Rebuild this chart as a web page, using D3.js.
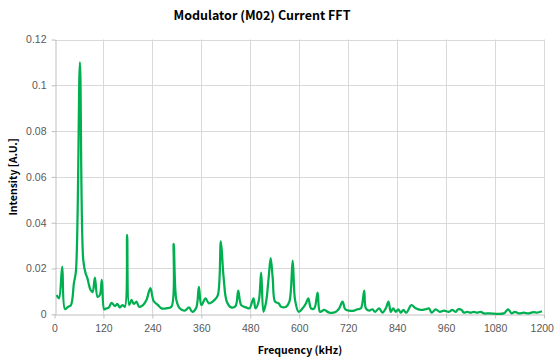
<!DOCTYPE html>
<html>
<head>
<meta charset="utf-8">
<script src="https://cdn.jsdelivr.net/npm/d3@7"></script>
<style>
  body { margin: 0; background: #fff; }
  svg { display: block; font-family: "Noto Sans CJK KR", "Noto Sans", sans-serif; }
  .grid line { stroke: #d9d9d9; }
  .axis path, .axis line { stroke: #bfbfbf; }
  .axis text { fill: #595959; font-size: 10.5px; }
</style>
</head>
<body>
<svg class="main" width="555" height="361"></svg>
<script>
// FFT spectrum
const freq = [5.4, 11, 19, 25.7, 33.7, 40.3, 47.7, 52.6, 62.3, 70.4, 76, 80.2, 88.5, 93.4, 99, 105.6, 111.2, 116,
  121.8, 126, 133, 139.9, 148, 154.5, 160, 166.7, 172.4, 178, 182.9, 188.8, 194.4, 201, 207.3, 217, 225.4, 235,
  243, 253.8, 262, 274.3, 286.6, 292.2, 298.8, 306.9, 319.1, 329.6, 337.9, 347.7, 354, 360, 370.4, 378.5,
  392.4, 400.5, 407.8, 414.4, 422.5, 433.3, 443.8, 450.4, 457.7, 470, 478, 487.8, 492.7, 500.7, 506.6, 512.2,
  518.8, 525.2, 530, 535, 540.8, 549.6, 555.5, 567.7, 575.8, 583.9, 589.7, 598.5, 608.3, 616.6, 622.2, 628.9,
  636.9, 645, 650.9, 661.4, 673.6, 690, 698, 706.1, 712.7, 722.5, 734.7, 742.8, 751.1, 759.2, 763.3, 771.4,
  779.5, 786, 795.8, 803.9, 812.2, 818.6, 824.4, 830, 836.7, 843, 848.9, 855.3, 862.6, 874.8, 885.6, 897.8,
  910, 918, 924.7, 934.5, 944.3, 954.8, 967, 975, 983.4, 989.7, 998, 1003.7, 1011.7, 1020, 1028, 1036, 1044.5,
  1052.6, 1064.8, 1101.5, 1112, 1120.3, 1128.4, 1138.2, 1150.4, 1162.6, 1174.8, 1182.9, 1195];
const intensity = [0.0084, 0.007, 0.0208, 0.0023, 0.0033, 0.004, 0.0137, 0.019, 0.110, 0.024, 0.018, 0.016, 0.0106, 0.0097, 0.016, 0.0076, 0.0084, 0.015,
  0.0022, 0.0025, 0.0029, 0.005, 0.0036, 0.0045, 0.003, 0.004, 0.0033, 0.0347, 0.004, 0.0063, 0.0045, 0.0055, 0.0033, 0.004, 0.0062, 0.0114,
  0.0058, 0.004, 0.0026, 0.0026, 0.0033, 0.0307, 0.0062, 0.0026, 0.0016, 0.003, 0.0011, 0.003, 0.012, 0.004, 0.007, 0.0048,
  0.0063, 0.0084, 0.0318, 0.0165, 0.0055, 0.003, 0.0036, 0.0103, 0.004, 0.003, 0.0026, 0.007, 0.0026, 0.0058, 0.0182, 0.0011,
  0.0055, 0.0165, 0.0245, 0.0157, 0.0055, 0.0048, 0.0033, 0.0033, 0.0055, 0.0234, 0.0063, 0.0011, 0.0026, 0.0048, 0.007, 0.0026,
  0.0026, 0.0095, 0.0011, 0.0019, 0.0007, 0.0011, 0.0026, 0.0055, 0.0022, 0.0016, 0.0016, 0.0022, 0.0026, 0.0103, 0.0026, 0.0016,
  0.0022, 0.0011, 0.0026, 0.0007, 0.0026, 0.0055, 0.0011, 0.0026, 0.0011, 0.0022, 0.0007, 0.0019, 0.0007, 0.004, 0.0026, 0.0019,
  0.0022, 0.0026, 0.0007, 0.0022, 0.0011, 0.0016, 0.0011, 0.0019, 0.0011, 0.0022, 0.0019, 0.0007, 0.0011, 0.0007, 0.0011, 0.0007, 0.0011,
  0.0004, 0.0004, 0.0004, 0.0022, 0.0004, 0.0011, 0.0004, 0.0007, 0.0004, 0.001, 0.0007, 0.0013];

const xTicks = [0, 120, 240, 360, 480, 600, 720, 840, 960, 1080, 1200];
const yTicks = [0, 0.02, 0.04, 0.06, 0.08, 0.1, 0.12];

const data = freq.map((f, i) => ({ f, v: intensity[i] }));

const svg = d3.select(".main");
const plot = { left: 54.5, right: 544, top: 39.5, bottom: 314.3 };

const x = d3.scaleLinear().domain([0, 1200]).range([plot.left, plot.right]);
const y = d3.scaleLinear().domain([0, 0.12]).range([plot.bottom, plot.top]);

// gridlines
const grid = svg.append("g").attr("class", "grid");
grid.selectAll(".h").data(yTicks.slice(1)).join("line")
  .attr("x1", plot.left).attr("x2", plot.right)
  .attr("y1", d => Math.round(y(d)) + 0.5).attr("y2", d => Math.round(y(d)) + 0.5);
grid.selectAll(".v").data(xTicks.slice(1)).join("line")
  .attr("y1", plot.top).attr("y2", plot.bottom)
  .attr("x1", d => Math.round(x(d)) + 0.5).attr("x2", d => Math.round(x(d)) + 0.5);

// axes
svg.append("g")
  .attr("class", "axis")
  .attr("transform", `translate(0,${Math.round(plot.bottom) + 0.5})`)
  .call(d3.axisBottom(x).tickValues(xTicks).tickFormat(d3.format("d")).tickSize(4).tickPadding(6).tickSizeOuter(0))
  .call(g => g.selectAll(".tick:last-of-type text").attr("text-anchor", "end").attr("dx", "0.9em"));

svg.append("g")
  .attr("class", "axis")
  .attr("transform", `translate(${Math.round(plot.left) + 0.5},0)`)
  .call(d3.axisLeft(y).tickValues(yTicks).tickFormat(d => +d.toFixed(2)).tickSize(4).tickPadding(5).tickSizeOuter(0));

// spectrum line
const line = d3.line()
  .x(d => x(d.f))
  .y(d => y(d.v))
  .curve(d3.curveCatmullRom.alpha(0.5));

svg.append("path")
  .datum(data)
  .attr("fill", "none")
  .attr("stroke", "#00b050")
  .attr("stroke-width", 2.25)
  .attr("stroke-linejoin", "round")
  .attr("d", line);

// titles
svg.append("text")
  .attr("x", 262).attr("y", 20)
  .attr("text-anchor", "middle")
  .attr("font-size", 12.5).attr("font-weight", "bold").attr("fill", "#000")
  .text("Modulator (M02)  Current FFT");

svg.append("text")
  .attr("x", 300).attr("y", 354)
  .attr("text-anchor", "middle")
  .attr("font-size", 10.5).attr("font-weight", "bold").attr("fill", "#000")
  .text("Frequency (kHz)");

svg.append("text")
  .attr("transform", "translate(17,177) rotate(-90)")
  .attr("text-anchor", "middle")
  .attr("font-size", 10.5).attr("font-weight", "bold").attr("fill", "#000")
  .text("Intensity [A.U.]");
</script>
</body>
</html>
